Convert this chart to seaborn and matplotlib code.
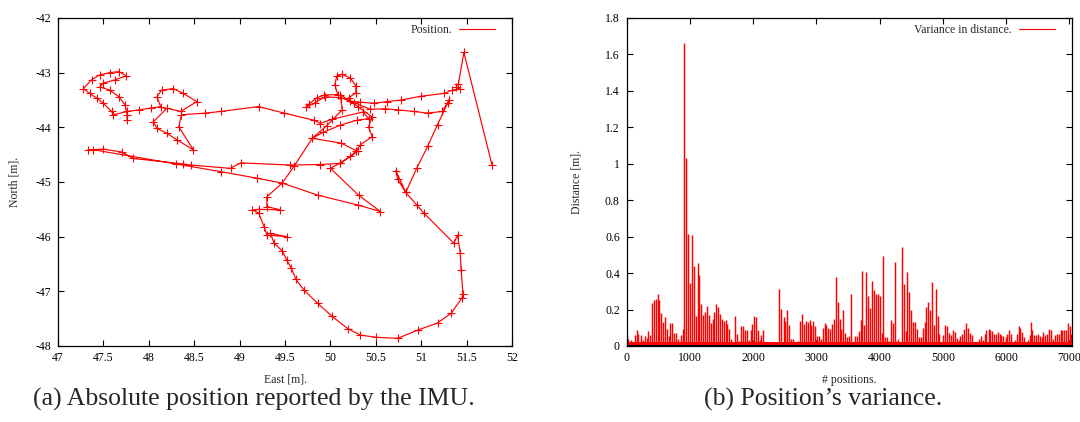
import numpy as np
import pandas as pd
import matplotlib
matplotlib.use("Agg")
import matplotlib.pyplot as plt
import matplotlib.ticker as mticker
from matplotlib.lines import Line2D
import seaborn as sns

# ── 1. Data ───────────────────────────────────────────────────────────────────
# (a) IMU track, metres
east = [51.78, 51.47, 51.41, 51.38, 51.43, 51.34, 51.25, 51.00, 50.78, 50.62,
        50.48, 50.33, 50.22, 50.20, 50.28, 50.28, 50.22, 50.13, 50.07, 50.05,
        50.08, 49.93, 49.85, 49.76, 49.73, 49.83, 49.94, 50.12, 50.26, 50.44,
        50.60, 50.74, 50.92, 51.07, 51.23, 51.31, 51.29, 51.18, 51.07, 50.95,
        50.83, 50.72, 50.74, 50.83, 50.95, 51.03, 51.36, 51.40, 51.43, 51.44,
        51.46, 51.45, 51.33, 51.18, 50.96, 50.74, 50.50, 50.33, 50.19, 50.02,
        49.86, 49.71, 49.62, 49.57, 49.52, 49.47, 49.38, 49.34, 49.52, 49.30,
        49.27, 49.21, 49.14, 49.21, 49.45, 49.30, 49.30, 49.47, 49.60, 49.80,
        49.96, 50.13, 50.11, 50.30, 50.46, 50.42, 50.46, 50.33, 50.28, 50.22,
        50.11, 50.00, 50.31, 50.55, 50.30, 49.86, 49.47, 49.19, 48.79, 48.30,
        47.39, 47.33, 47.50, 47.70, 47.83, 48.38, 48.46, 48.90, 49.01, 49.56,
        49.89, 50.11, 50.30, 50.12, 49.80, 49.92, 50.11, 50.29, 50.42, 50.36,
        50.02, 49.89, 49.82, 49.49, 49.21, 48.79, 48.62, 48.36, 48.33, 48.49,
        48.31, 48.20, 48.09, 48.05, 48.20, 48.35, 48.53, 48.38, 48.27, 48.14,
        48.09, 48.13, 48.02, 47.89, 47.76, 47.61, 47.59, 47.50, 47.43, 47.35,
        47.28, 47.37, 47.46, 47.57, 47.67, 47.75, 47.63, 47.50, 47.46, 47.57,
        47.67, 47.74, 47.76, 47.76]
north = [-44.69, -42.63, -43.20, -43.27, -43.30, -43.32, -43.38, -43.43, -43.50, -43.53,
         -43.56, -43.54, -43.52, -43.46, -43.37, -43.24, -43.10, -43.03, -43.06, -43.22,
         -43.40, -43.41, -43.46, -43.58, -43.63, -43.55, -43.44, -43.46, -43.55, -43.67,
         -43.66, -43.68, -43.71, -43.74, -43.71, -43.50, -43.56, -43.95, -44.35, -44.75,
         -45.19, -44.79, -44.95, -45.19, -45.42, -45.57, -46.12, -45.97, -46.30, -46.61,
         -47.05, -47.12, -47.40, -47.58, -47.71, -47.86, -47.84, -47.80, -47.68, -47.46,
         -47.22, -46.98, -46.78, -46.58, -46.43, -46.26, -46.12, -45.94, -46.00, -45.97,
         -45.82, -45.57, -45.51, -45.50, -45.51, -45.45, -45.27, -45.02, -44.71, -44.20,
         -43.97, -43.68, -43.40, -43.62, -43.81, -43.99, -44.17, -44.32, -44.44, -44.53,
         -44.65, -44.75, -45.24, -45.54, -45.42, -45.24, -45.02, -44.93, -44.81, -44.67,
         -44.41, -44.41, -44.40, -44.45, -44.57, -44.67, -44.69, -44.75, -44.65, -44.69,
         -44.68, -44.66, -44.44, -44.29, -44.20, -44.09, -43.96, -43.87, -43.84, -43.72,
         -43.85, -43.93, -43.87, -43.74, -43.62, -43.71, -43.74, -43.77, -43.99, -44.41,
         -44.23, -44.11, -44.02, -43.90, -43.65, -43.71, -43.53, -43.38, -43.29, -43.32,
         -43.44, -43.62, -43.65, -43.68, -43.71, -43.77, -43.71, -43.56, -43.47, -43.38,
         -43.29, -43.13, -43.04, -43.00, -42.98, -43.06, -43.13, -43.19, -43.26, -43.32,
         -43.44, -43.59, -43.77, -43.87]

# (b) variance in distance per position, metres
pos_a = [0, 26, 68, 105, 131, 158, 184, 221, 252, 289,
         316, 342, 368, 400, 431, 458, 489, 516, 542, 579,
         605, 631, 663, 684, 710, 747, 779, 816, 858, 884,
         911, 942, 974, 1000, 1032, 1058, 1090, 1121, 1148, 1174,
         1211, 1237, 1263, 1295, 1327, 1358, 1385, 1416, 1442, 1474,
         1506, 1537, 1564, 1590, 1622, 1653, 1685, 1716, 1743, 1780,
         1806, 1838, 1869, 1901, 1932, 1964, 1990, 2017, 2043, 2080,
         2106, 2132, 2164, 2196, 2230, 2260, 2290, 2320, 2350, 2385]
val_a = [0.059, 0.04, 0.035, 0.02, 0.06, 0.086, 0.068, 0.062, 0.035, 0.053,
         0.046, 0.08, 0.06, 0.236, 0.25, 0.257, 0.288, 0.25, 0.183, 0.132,
         0.158, 0.095, 0.055, 0.126, 0.126, 0.071, 0.073, 0.04, 0.06, 0.095,
         1.663, 1.03, 0.612, 0.346, 0.607, 0.44, 0.163, 0.458, 0.387, 0.229,
         0.169, 0.187, 0.218, 0.169, 0.126, 0.15, 0.187, 0.233, 0.214, 0.178,
         0.15, 0.137, 0.141, 0.119, 0.092, 0.04, 0.016, 0.165, 0.068, 0.03,
         0.108, 0.108, 0.086, 0.086, 0.035, 0.086, 0.123, 0.163, 0.16, 0.086,
         0.035, 0.059, 0.086, 0.022, 0.02, 0.018, 0.02, 0.015, 0.02, 0.018]
pos_b = [2417, 2448, 2485, 2512, 2538, 2564, 2596, 2633, 2659, 2690,
         2712, 2743, 2775, 2806, 2838, 2864, 2896, 2922, 2954, 2985,
         3017, 3043, 3075, 3107, 3133, 3159, 3186, 3222, 3249, 3280,
         3312, 3338, 3370, 3396, 3428, 3459, 3491, 3523, 3554, 3586,
         3617, 3649, 3675, 3702, 3728, 3754, 3791, 3817, 3849, 3881,
         3912, 3939, 3970, 4002, 4033, 4060, 4091, 4123, 4149, 4181,
         4212, 4239, 4265, 4297, 4323, 4355, 4381, 4412, 4439, 4470,
         4502, 4534, 4565, 4597, 4623, 4655, 4686]
val_b = [0.315, 0.205, 0.16, 0.135, 0.2, 0.113, 0.04, 0.04, 0.016, 0.02,
         0.03, 0.135, 0.177, 0.122, 0.135, 0.13, 0.14, 0.117, 0.135, 0.108,
         0.053, 0.053, 0.038, 0.1, 0.126, 0.117, 0.1, 0.095, 0.122, 0.15,
         0.376, 0.24, 0.15, 0.095, 0.196, 0.071, 0.049, 0.053, 0.285, 0.016,
         0.053, 0.053, 0.08, 0.14, 0.41, 0.113, 0.407, 0.273, 0.21, 0.355,
         0.309, 0.287, 0.287, 0.273, 0.071, 0.493, 0.049, 0.049, 0.03, 0.14,
         0.126, 0.462, 0.03, 0.04, 0.02, 0.546, 0.34, 0.085, 0.405, 0.298,
         0.196, 0.13, 0.13, 0.095, 0.049, 0.049, 0.1]
pos_c = [4713, 4739, 4766, 4797, 4829, 4855, 4887, 4918, 4945, 4976,
         5003, 5034, 5066, 5092, 5124, 5155, 5187, 5219, 5250, 5276,
         5308, 5334, 5366, 5392, 5424, 5455, 5487, 5513, 5545, 5571,
         5603, 5635, 5661, 5692, 5724, 5750, 5782, 5814, 5840, 5872,
         5903, 5929, 5961, 5993, 6024, 6051, 6082, 6108, 6140, 6172,
         6203, 6230, 6261, 6293, 6319, 6351, 6382, 6398, 6419, 6445,
         6477, 6509, 6535, 6567, 6593, 6625, 6656, 6682, 6714, 6746,
         6777, 6809, 6835, 6867, 6893, 6925, 6951, 6977, 7009, 7035]
val_c = [0.132, 0.214, 0.24, 0.196, 0.352, 0.113, 0.315, 0.163, 0.064, 0.022,
         0.06, 0.117, 0.108, 0.071, 0.06, 0.086, 0.077, 0.046, 0.031, 0.053,
         0.068, 0.095, 0.126, 0.1, 0.071, 0.06, 0.022, 0.016, 0.022, 0.04,
         0.053, 0.035, 0.064, 0.09, 0.095, 0.086, 0.08, 0.064, 0.064, 0.075,
         0.068, 0.062, 0.053, 0.049, 0.068, 0.09, 0.064, 0.022, 0.031, 0.064,
         0.112, 0.1, 0.077, 0.049, 0.022, 0.035, 0.06, 0.13, 0.09, 0.062,
         0.06, 0.064, 0.053, 0.049, 0.075, 0.06, 0.064, 0.095, 0.09, 0.038,
         0.06, 0.064, 0.064, 0.086, 0.086, 0.086, 0.09, 0.126, 0.108, 0.068]
noise_floor = 0.02   # dense band of tiny impulses along the bottom

east_ticks = [47, 47.5, 48, 48.5, 49, 49.5, 50, 50.5, 51, 51.5, 52]
north_ticks = [-48, -47, -46, -45, -44, -43, -42]
pos_ticks = [0, 1000, 2000, 3000, 4000, 5000, 6000, 7000]
dist_ticks = [0, 0.2, 0.4, 0.6, 0.8, 1, 1.2, 1.4, 1.6, 1.8]

track = pd.DataFrame({"east": east, "north": north})
var = pd.DataFrame({"pos": pos_a + pos_b + pos_c, "val": val_a + val_b + val_c})

# ── 2. Style ──────────────────────────────────────────────────────────────────
sns.set_theme(style="ticks")
plt.rcParams["font.family"] = ["Liberation Serif", "DejaVu Serif"]
plt.rcParams["axes.unicode_minus"] = False
FS = 8.5
fmt = mticker.FuncFormatter(lambda v, _: f"{v:g}")

fig = plt.figure(figsize=(10.8, 4.22), dpi=100)
ax1 = fig.add_axes([58 / 1080, 76 / 422, 454 / 1080, 328 / 422])
ax2 = fig.add_axes([626.7 / 1080, 76 / 422, 445 / 1080, 328 / 422])

# ── 3. (a) track ──────────────────────────────────────────────────────────────
sns.lineplot(data=track, x="east", y="north", sort=False, estimator=None,
             color="red", lw=0.85, marker="+", markersize=6,
             markeredgecolor="red", markeredgewidth=0.8, ax=ax1, legend=False)
ax1.set_xlim(47, 52)
ax1.set_ylim(-48, -42)
ax1.set_xticks(east_ticks)
ax1.set_yticks(north_ticks)
ax1.set_xlabel("East [m].", fontsize=FS)
ax1.set_ylabel("North [m].", fontsize=FS)
ax1.xaxis.set_label_coords(0.5, -0.085)
ax1.yaxis.set_label_coords(-0.083, 0.5)
ax1.legend(handles=[Line2D([], [], color="red", lw=0.8)], labels=["Position."],
           loc="upper right", bbox_to_anchor=(0.975, 1.0), frameon=False,
           markerfirst=False, handlelength=3.0, handletextpad=0.6,
           fontsize=FS, borderaxespad=0.1)

# ── 4. (b) variance impulses ──────────────────────────────────────────────────
ax2.fill_between([var["pos"].iloc[0], var["pos"].iloc[-1]], 0, noise_floor,
                 color="red", lw=0)
ax2.vlines(var["pos"], 0, var["val"], color="red", lw=1.05)
ax2.axhline(0, color="black", lw=1.4)
ax2.set_xlim(0, 7040)
ax2.set_ylim(0, 1.8)
ax2.set_xticks(pos_ticks)
ax2.set_yticks(dist_ticks)
ax2.set_xlabel("# positions.", fontsize=FS)
ax2.set_ylabel("Distance [m].", fontsize=FS)
ax2.xaxis.set_label_coords(0.5, -0.085)
ax2.yaxis.set_label_coords(-0.1, 0.5)
ax2.legend(handles=[Line2D([], [], color="red", lw=0.8)],
           labels=["Variance in distance."],
           loc="upper right", bbox_to_anchor=(0.975, 1.0), frameon=False,
           markerfirst=False, handlelength=3.0, handletextpad=0.6,
           fontsize=FS, borderaxespad=0.1)

for ax in (ax1, ax2):
    ax.xaxis.set_major_formatter(fmt)
    ax.yaxis.set_major_formatter(fmt)
    ax.tick_params(direction="in", top=True, right=True, length=4, width=0.8,
                   labelsize=FS, colors="black")
    ax.tick_params(axis="x", pad=4)
    ax.tick_params(axis="y", pad=5)
    for s in ax.spines.values():
        s.set_color("black")
        s.set_linewidth(0.9)

# ── 5. Captions ───────────────────────────────────────────────────────────────
fig.text(254 / 1080, 1 - 399 / 422, "(a) Absolute position reported by the IMU.",
         ha="center", va="center", fontsize=18.5)
fig.text(823 / 1080, 1 - 399 / 422, "(b) Position\u2019s variance.",
         ha="center", va="center", fontsize=18.5)

fig.savefig("out.png", dpi=100)
